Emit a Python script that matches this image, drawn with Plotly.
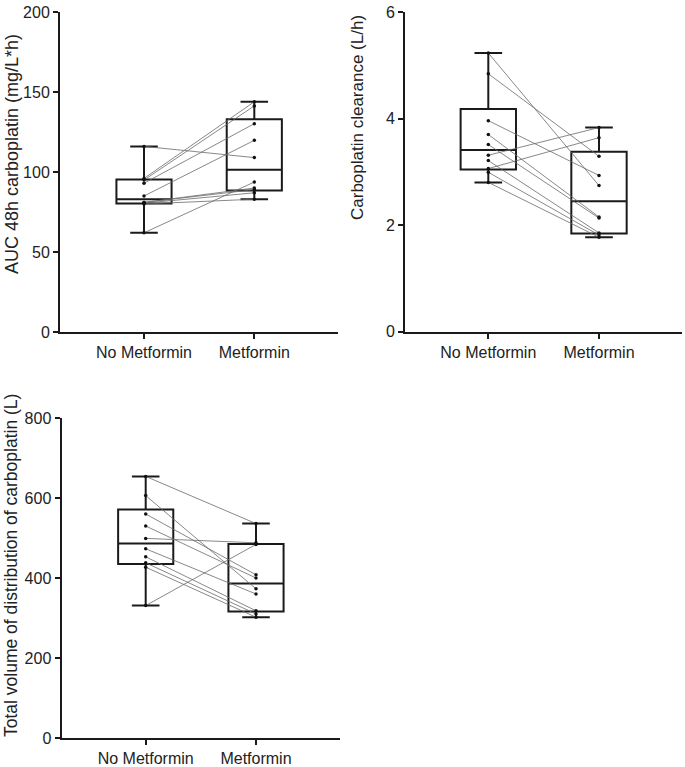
import numpy as np
import plotly.graph_objects as go

categories = ["No Metformin", "Metformin"]

# Panel 1: AUC 48h carboplatin (mg/L*h), paired subjects
auc_no_met = [116, 96, 95, 93, 85, 81, 81, 80.5, 80, 62]
auc_met = [109, 143.9, 141.3, 130.2, 119.8, 90, 89, 87, 83, 93.75]

# Panel 2: Carboplatin clearance (L/h)
cl_no_met = [5.23, 4.84, 3.96, 3.70, 3.51, 3.31, 3.21, 3.06, 2.99, 2.80]
cl_met = [2.74, 3.29, 2.93, 2.15, 2.13, 3.83, 1.85, 3.64, 1.81, 1.77]

# Panel 3: Total volume of distribution (L)
vd_no_met = [654, 606, 560, 530, 499, 473, 453, 438, 427, 331]
vd_met = [536, 373, 408, 400, 488, 360, 318, 310, 302, 484]

titles = ["AUC 48h carboplatin (mg/L*h)",
          "Carboplatin clearance (L/h)",
          "Total volume of distribution of carboplatin (L)"]
y_ranges = [[0, 200], [0, 6], [0, 800]]
y_dticks = [50, 2, 200]

W, H = 685, 767
FONT = "Liberation Sans, Arial, sans-serif"

panels = [
    (auc_no_met, auc_met),
    (cl_no_met, cl_met),
    (vd_no_met, vd_met),
]

# pixel geometry: (x_left, x_right, y_top, y_bottom, x of category 0, px per category)
geom = [
    (60, 338, 12, 332, 144.0, 110.3),
    (405, 682, 12, 331.5, 488.3, 110.7),
    (61.5, 339.5, 418, 738, 145.7, 110.3),
]
title_pos = [(12, 154), (357, 118), (11, 566)]
title_sizes = [18, 17, 17.5]

fig = go.Figure()

for i, (left, right) in enumerate(panels):
    ax = "" if i == 0 else str(i + 1)
    xref, yref = "x" + ax, "y" + ax
    for pos, vals in enumerate([left, right]):
        q1, med, q3 = np.percentile(vals, [25, 50, 75], method="weibull")
        fig.add_trace(go.Box(
            x=[pos], q1=[q1], median=[med], q3=[q3],
            lowerfence=[min(vals)], upperfence=[max(vals)],
            width=0.5, whiskerwidth=0.5,
            fillcolor="rgba(255,255,255,0)",
            line=dict(color="#1a1a1a", width=2),
            boxpoints=False, showlegend=False, hoverinfo="skip",
            xaxis=xref, yaxis=yref,
        ))
    xs, ys = [], []
    for a, b in zip(left, right):
        xs += [0, 1, None]
        ys += [a, b, None]
    fig.add_trace(go.Scatter(
        x=xs, y=ys, mode="lines+markers",
        line=dict(color="#6a6a6a", width=0.8),
        marker=dict(color="#111111", size=3.5),
        showlegend=False, hoverinfo="skip",
        xaxis=xref, yaxis=yref,
    ))

axis_common = dict(
    showline=True, linecolor="#1a1a1a", linewidth=2,
    ticks="outside", ticklen=5, tickwidth=2, tickcolor="#1a1a1a",
    showgrid=False, zeroline=False,
    tickfont=dict(family=FONT, size=16, color="#222222"),
)

layout = dict(
    width=W, height=H,
    margin=dict(l=0, r=0, t=0, b=0, autoexpand=False),
    paper_bgcolor="white", plot_bgcolor="white",
    showlegend=False,
    font=dict(family=FONT, size=16, color="#222222"),
    annotations=[],
)

for i, (xl, xr, yt, yb, p0, ppu) in enumerate(geom):
    ax = "" if i == 0 else str(i + 1)
    layout["xaxis" + ax] = dict(
        axis_common,
        domain=[xl / W, xr / W],
        anchor="y" + ax,
        range=[(xl - p0) / ppu, (xr - p0) / ppu], type="linear",
        tickvals=[0, 1], ticktext=categories,
    )
    layout["yaxis" + ax] = dict(
        axis_common,
        domain=[(H - yb) / H, (H - yt) / H],
        anchor="x" + ax,
        range=y_ranges[i], dtick=y_dticks[i], tick0=0,
    )
    tx, ty = title_pos[i]
    layout["annotations"].append(dict(
        text=titles[i], x=tx / W, y=(H - ty) / H,
        xref="paper", yref="paper", xanchor="center", yanchor="middle",
        textangle=-90, showarrow=False,
        font=dict(family=FONT, size=title_sizes[i], color="#222222"),
    ))

fig.update_layout(**layout)
fig.write_html(
    "out.html",
    config={"displayModeBar": False, "staticPlot": True},
    post_script="document.body.style.margin='0';document.body.style.overflow='hidden';",
)
